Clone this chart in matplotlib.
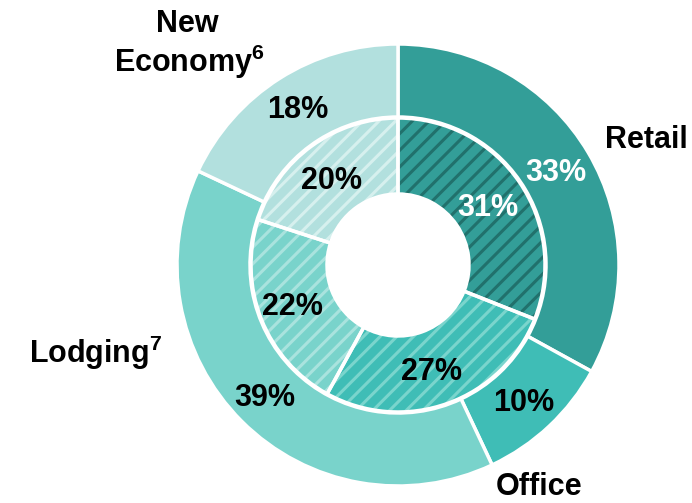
import matplotlib
matplotlib.use("Agg")
import matplotlib.pyplot as plt

plt.rcParams['font.family'] = ['Liberation Sans', 'DejaVu Sans']
plt.rcParams['mathtext.fontset'] = 'custom'
plt.rcParams['mathtext.rm'] = 'Liberation Sans:bold'
plt.rcParams['mathtext.bf'] = 'Liberation Sans:bold'
plt.rcParams['hatch.linewidth'] = 2.2

# Portfolio mix by property type
categories = ["Retail", "Office", "Lodging", "New Economy"]
outer_values = [33, 10, 39, 18]
inner_values = [31, 27, 22, 20]

fill_colors = ["#339E98", "#3FBDB6", "#79D3CB", "#B2E0DE"]
stripe_colors = ["#21716C", "#7AD5CD", "#A9E3DE", "#D6F0EE"]
outer_text_colors = ["white", "black", "black", "black"]
inner_text_colors = ["white", "black", "black", "black"]

W, H = 692, 503
fig = plt.figure(figsize=(W / 100, H / 100), dpi=100)
ax = fig.add_axes([0, 0, 1, 1])

cx, cy = 398, H - 265
r_out, w_out = 221, 73
r_in, w_in = 147, 76

# Outer ring
ax.pie(outer_values, radius=r_out, center=(cx, cy), startangle=90,
       counterclock=False, colors=fill_colors, frame=True,
       wedgeprops=dict(width=w_out, edgecolor='white', linewidth=2.5))

# Inner ring, striped
inner_wedges, _ = ax.pie(inner_values, radius=r_in, center=(cx, cy),
                         startangle=90, counterclock=False, colors=fill_colors,
                         frame=True, wedgeprops=dict(width=w_in, linewidth=0))
for wdg, sc in zip(inner_wedges, stripe_colors):
    wdg.set_hatch('//')
    wdg.set_edgecolor(sc)
    wdg.set_linewidth(0)

# White separators on the inner ring
ax.pie(inner_values, radius=r_in, center=(cx, cy), startangle=90,
       counterclock=False, colors=['none'] * 4, frame=True,
       wedgeprops=dict(width=w_in, edgecolor='white', linewidth=2.5,
                       facecolor='none'))
ax.set_xlim(0, W)
ax.set_ylim(0, H)
ax.set_aspect('equal')
ax.axis('off')

fs = 22
# Percentage labels
outer_pos = [(556, 173), (524, 403), (265, 398), (298, 110)]
inner_pos = [(488, 208), (431, 372), (292, 307), (331, 181)]
for (x, y), v, c in zip(outer_pos, outer_values, outer_text_colors):
    ax.text(x, H - y, f"{v}%", ha='center', va='center', fontsize=fs,
            fontweight='bold', color=c)
for (x, y), v, c in zip(inner_pos, inner_values, inner_text_colors):
    ax.text(x, H - y, f"{v}%", ha='center', va='center', fontsize=fs,
            fontweight='bold', color=c)

# Category labels
ax.text(646, H - 140, "Retail", ha='center', va='center', fontsize=fs,
        fontweight='bold', color='black')
ax.text(539, H - 495, "Office", ha='center', va='baseline', fontsize=fs,
        fontweight='bold', color='black')
ax.text(96, H - 353, r"Lodging$^{7}$", ha='center', va='center', fontsize=fs,
        fontweight='bold', color='black')
ax.text(187, H - 24, "New", ha='center', va='center', fontsize=fs,
        fontweight='bold', color='black')
ax.text(189, H - 62, r"Economy$^{6}$", ha='center', va='center', fontsize=fs,
        fontweight='bold', color='black')

fig.savefig("out.png", dpi=100)
